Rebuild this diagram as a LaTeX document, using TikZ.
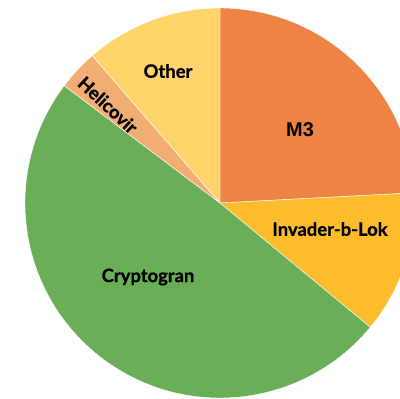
\documentclass[tikz,border=0pt]{standalone}
\usepackage{fontspec}
\newfontfamily\lato{Lato}[BoldFeatures={FakeBold=0.8}]
\newfontfamily\arialish{Liberation Sans}
\definecolor{cM}{HTML}{EE8444}
\definecolor{cI}{HTML}{FDBC2C}
\definecolor{cC}{HTML}{6AAF57}
\definecolor{cH}{HTML}{F2AE72}
\definecolor{cO}{HTML}{FED369}
\tikzset{
  slice/.style={draw=white, line width=0.4bp, line join=round},
  lbl/.style={text=black, inner sep=0pt, font=\lato\bfseries\fontsize{18.5}{20}\selectfont},
}
\begin{document}
\begin{tikzpicture}[x=1bp,y=1bp]
\useasboundingbox (0,0) rectangle (400,399);
\clip (0,0) rectangle (400,399);
\coordinate (c) at (220,196);
\def\R{195}
\fill[cM, slice] (c) -- ++(3:\R) arc[start angle=3, end angle=90, radius=\R] -- cycle;
\fill[cI, slice] (c) -- ++(-39.6:\R) arc[start angle=-39.6, end angle=3, radius=\R] -- cycle;
\fill[cC, slice] (c) -- ++(143:\R) arc[start angle=143, end angle=320.4, radius=\R] -- cycle;
\fill[cH, slice] (c) -- ++(130.9:\R) arc[start angle=130.9, end angle=143, radius=\R] -- cycle;
\fill[cO, slice] (c) -- ++(90:\R) arc[start angle=90, end angle=130.9, radius=\R] -- cycle;
\node[lbl, font=\arialish\bfseries\fontsize{20}{22}\selectfont] (m3) at (300,269) {M3};
\node[lbl] (inv) at (330,170) {Invader-b-Lok};
\node[lbl] (cry) at (148,122) {Cryptogran};
\node[lbl, rotate=-43] (hel) at (108,294) {Helicovir};
\node[lbl] (oth) at (168,328) {Other};
\end{tikzpicture}
\end{document}
